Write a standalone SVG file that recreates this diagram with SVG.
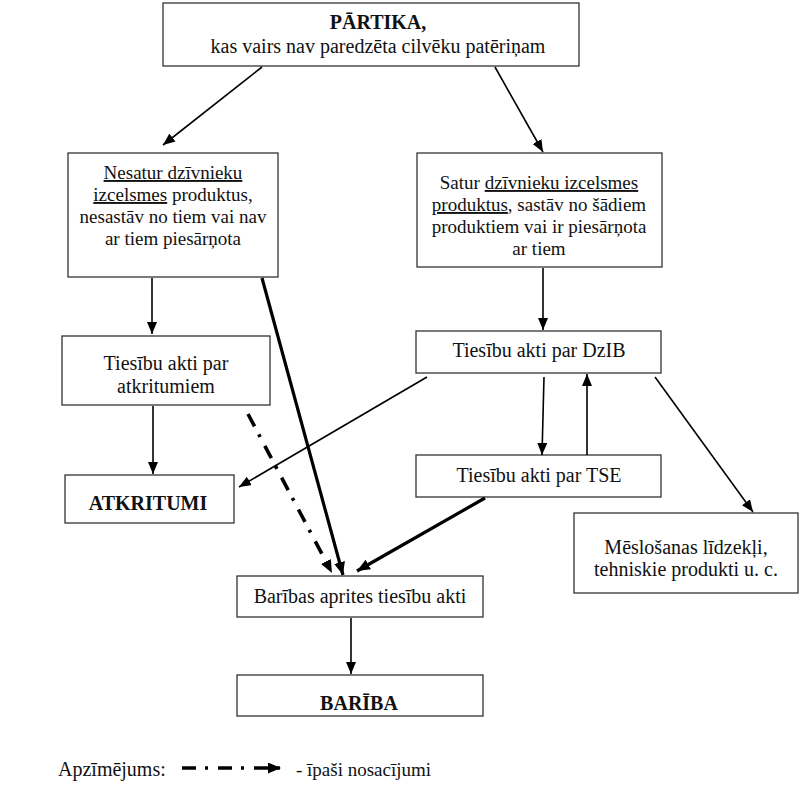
<svg xmlns="http://www.w3.org/2000/svg" width="799" height="788" viewBox="0 0 799 788">
<defs>
<marker id="ah" markerUnits="userSpaceOnUse" markerWidth="12" markerHeight="10" viewBox="0 0 12 10" refX="12" refY="5" orient="auto"><path d="M0,0 L12,5 L0,10 z" fill="#000"/></marker>
<marker id="ahb" markerUnits="userSpaceOnUse" markerWidth="13" markerHeight="11" viewBox="0 0 13 11" refX="13" refY="5.5" orient="auto"><path d="M0,0 L13,5.5 L0,11 z" fill="#000"/></marker>
<style>
.box{fill:#fff;stroke:#333;stroke-width:1.3}
text{font-family:"Liberation Serif","Times New Roman",serif;font-size:20px;fill:#111;text-anchor:middle}
.b{font-weight:bold}
.u{text-decoration:underline}
.s{font-size:19px}
.c{fill:none;stroke:#000;stroke-width:1.6}
.t{fill:none;stroke:#000;stroke-width:3.2}
.d{fill:none;stroke:#000;stroke-width:3.6;stroke-dasharray:14 9 3 10}
</style>
</defs>
<rect width="799" height="788" fill="#fff"/>
<g id="n-partika"><rect class="box" x="163" y="3" width="416" height="63"/><text x="378" y="29" class="b">PĀRTIKA,</text><text x="378" y="53">kas vairs nav paredzēta cilvēku patēriņam</text></g>
<g id="n-nesatur"><rect class="box" x="68" y="153" width="210" height="124"/><text class="s" x="173" y="179"><tspan class="u">Nesatur dzīvnieku</tspan></text><text class="s" x="173" y="201"><tspan class="u">izcelsmes</tspan> produktus,</text><text class="s" x="173" y="223">nesastāv no tiem vai nav</text><text class="s" x="173" y="245">ar tiem piesārņota</text></g>
<g id="n-satur"><rect class="box" x="417" y="153" width="245" height="114"/><text class="s" x="539" y="189">Satur <tspan class="u">dzīvnieku izcelsmes</tspan></text><text class="s" x="539" y="211"><tspan class="u">produktus</tspan>, sastāv no šādiem</text><text class="s" x="539" y="233">produktiem vai ir piesārņota</text><text class="s" x="539" y="255">ar tiem</text></g>
<g id="n-atkr-akti"><rect class="box" x="62" y="336" width="208" height="69"/><text x="166" y="370">Tiesību akti par</text><text x="166" y="393">atkritumiem</text></g>
<g id="n-dzib"><rect class="box" x="416" y="331" width="245" height="42"/><text x="539" y="357">Tiesību akti par DzIB</text></g>
<g id="n-atkritumi"><rect class="box" x="65" y="475" width="169" height="48"/><text x="148" y="510" class="b">ATKRITUMI</text></g>
<g id="n-tse"><rect class="box" x="416" y="455" width="245" height="42"/><text x="539" y="482">Tiesību akti par TSE</text></g>
<g id="n-meslosanas"><rect class="box" x="574" y="513" width="224" height="80"/><text x="686" y="554">Mēslošanas līdzekļi,</text><text x="686" y="576">tehniskie produkti u. c.</text></g>
<g id="n-baribas-akti"><rect class="box" x="237" y="576" width="246" height="41"/><text x="360" y="603">Barības aprites tiesību akti</text></g>
<g id="n-bariba"><rect class="box" x="237" y="675" width="246" height="41"/><text x="359" y="710" class="b">BARĪBA</text></g>
<g id="connectors">
<line class="c" x1="262" y1="67" x2="163" y2="145" marker-end="url(#ah)"/>
<line class="c" x1="495" y1="67" x2="543" y2="152" marker-end="url(#ah)"/>
<line class="c" x1="152" y1="278" x2="152" y2="334" marker-end="url(#ah)"/>
<line class="c" x1="543" y1="268" x2="543" y2="330" marker-end="url(#ah)"/>
<line class="c" x1="153" y1="406" x2="153" y2="474" marker-end="url(#ah)"/>
<line class="c" x1="427" y1="377" x2="239" y2="487" marker-end="url(#ah)"/>
<line class="c" x1="544" y1="377" x2="542" y2="455" marker-end="url(#ah)"/>
<line class="c" x1="587" y1="455" x2="587" y2="374" marker-end="url(#ah)"/>
<line class="c" x1="655" y1="377" x2="753" y2="512" marker-end="url(#ah)"/>
<line class="c" x1="351" y1="618" x2="351" y2="674" marker-end="url(#ah)"/>
<line class="t" x1="262" y1="278" x2="343" y2="575" marker-end="url(#ahb)"/>
<line class="t" x1="485" y1="498" x2="357" y2="571" marker-end="url(#ahb)"/>
<line class="d" x1="248" y1="414" x2="332" y2="573" marker-end="url(#ahb)"/>
</g>
<g id="legend">
<text x="58" y="776" style="text-anchor:start">Apzīmējums:</text>
<line class="d" x1="182" y1="768" x2="281" y2="768" marker-end="url(#ahb)"/>
<text x="296" y="776" style="text-anchor:start;font-size:19px">- īpaši nosacījumi</text>
</g>
</svg>
